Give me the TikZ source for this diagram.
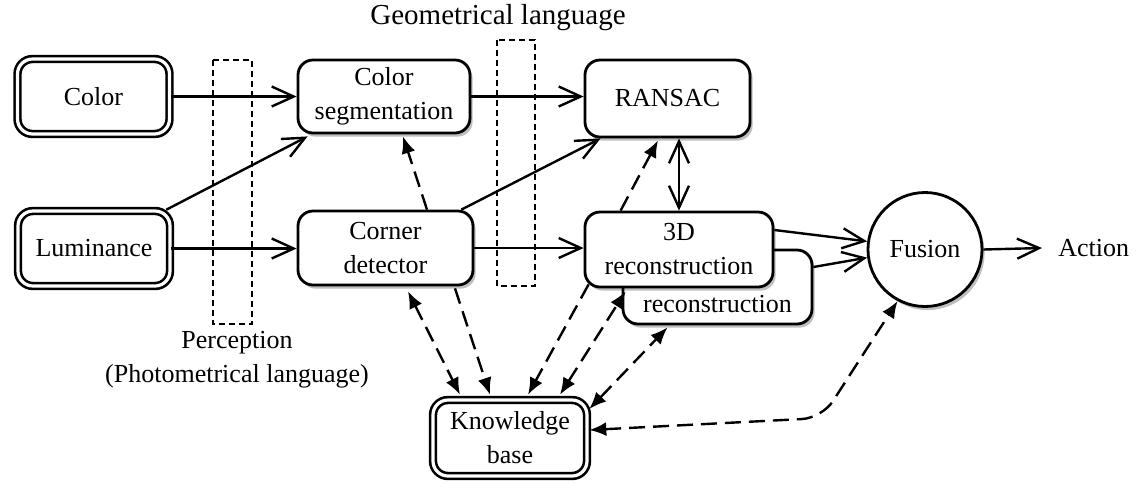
\documentclass[tikz,border=0pt]{standalone}
\usepackage{fontspec}
\setmainfont{Liberation Serif}
\usetikzlibrary{arrows.meta,shadows,calc,positioning}
\begin{document}
\begin{tikzpicture}[x=0.5pt,y=-0.5pt,
  every node/.style={font=\fontsize{13}{17}\selectfont},
  shad/.style={drop shadow={shadow xshift=1.3pt,shadow yshift=-1.8pt,opacity=0.25,fill=black}},
  box/.style={draw,line width=1.4pt,rounded corners=7.5pt,fill=white,align=center,inner sep=0pt,shad},
  dbox/.style={draw,line width=1.3pt,double=white,double distance=1.6pt,rounded corners=7.5pt,fill=white,align=center,inner sep=0pt,shad},
  flow/.style={line width=1.2pt,-{Straight Barb[length=11pt,width=10pt,line width=1.2pt]}},
  flowboth/.style={line width=1.2pt,{Straight Barb[length=11pt,width=10pt,line width=1.2pt]}-{Straight Barb[length=11pt,width=10pt,line width=1.2pt]}},
  dflow/.style={line width=1.2pt,dash pattern=on 8pt off 4pt,-{Latex[length=8.5pt,width=7pt]}},
  dboth/.style={line width=1.2pt,dash pattern=on 8pt off 4pt,{Latex[length=8.5pt,width=7pt]}-{Latex[length=8.5pt,width=7pt]}},
  frame/.style={draw,line width=1.1pt,dash pattern=on 3pt off 2pt},
  lbl/.style={align=center,inner sep=0pt}
]
\useasboundingbox (0,0) rectangle (1137,484);

% dashed frames
\draw[frame] (213,60) rectangle (252,324);
\draw[frame] (497,40) rectangle (535,286);

% nodes
\node[dbox,minimum width=76pt,minimum height=37.5pt] (color) at (93.5,96.5) {Color};
\node[dbox,minimum width=76pt,minimum height=37.5pt] (lum) at (94,248.5) {Luminance};
\node[box,minimum width=86pt,minimum height=36.5pt] (cs) at (384,96.5) {Color\\segmentation};
\node[box,minimum width=87.5pt,minimum height=37pt] (cd) at (385.5,248) {Corner\\detector};
\node[box,minimum width=82.5pt,minimum height=38.5pt] (ransac) at (667.5,98.5) {RANSAC};
\node[box,minimum width=94.5pt,minimum height=37pt] (recb) at (717.5,287) {\vphantom{3D}\\reconstruction};
\node[box,minimum width=94pt,minimum height=37.5pt] (rec) at (679,249.5) {3D\\reconstruction};
\node[circle,draw,line width=1.4pt,fill=white,minimum size=57pt,inner sep=0pt,shad] (fusion) at (925,249.5) {Fusion};
\node[inner sep=8pt,anchor=west] (action) at (1042,248) {Action};
\node[dbox,minimum width=77pt,minimum height=38pt] (kb) at (510,438) {Knowledge\\base};

\node[lbl] (perc) at (237,360) {Perception\\(Photometrical language)};
\node[lbl,font=\fontsize{14.5}{17}\selectfont] (geo) at (498,18) {Geometrical language};

\coordinate (bend) at (822,418);

% solid connectors
\draw[flow] (color.east) -- (cs.west |- color.east);
\draw[flow] ($(lum.north east)+(-5,0)$) -- ($(cs.south west)+(11,2)$);
\draw[flow] (lum.east) -- (cd.west |- lum.east);
\draw[flow] (cs.east) -- (ransac.west |- cs.east);
\draw[flow] ($(cd.north east)+(-13,0)$) -- ($(ransac.south west)+(17,0)$);
\draw[flow] (cd.east) -- (rec.west |- cd.east);
\draw[flowboth] (rec.north) -- (rec.north |- ransac.south);
\draw[flow] ($(rec.east)+(0,-19.5)$) -- (fusion.172);
\draw[flow] ($(recb.east)+(0,-20)$) -- (fusion.188);
\draw[flow] (fusion.east) -- (action.west);

% dashed connectors
\draw[dflow] ($(cd.north)+(41.5,0)$) -- ($(cs.south)+(19,2)$);
\draw[dflow] ($(rec.north west)+(37,0)$) -- ($(ransac.south)+(-9.5,2)$);
\draw[dboth] ($(cd.south)+(22.5,5)$) -- ($(kb.north)+(-50,-4)$);
\draw[dflow] ($(cd.south)+(69.5,2)$) -- ($(kb.north)+(-20,-4)$);
\draw[dflow] ($(rec.south west)+(5,-4)$) -- ($(kb.north)+(18,-4)$);
\draw[dboth] ($(kb.north)+(50,-4)$) -- ($(rec.south west)+(42,3)$);
\draw[dboth] ($(kb.east)+(1,-29)$) -- ($(recb.south)+(-50,2)$);
\draw[dboth,rounded corners=10pt] ($(kb.east)+(1,-8)$) -- (bend) -- (fusion.242);
\end{tikzpicture}
\end{document}
